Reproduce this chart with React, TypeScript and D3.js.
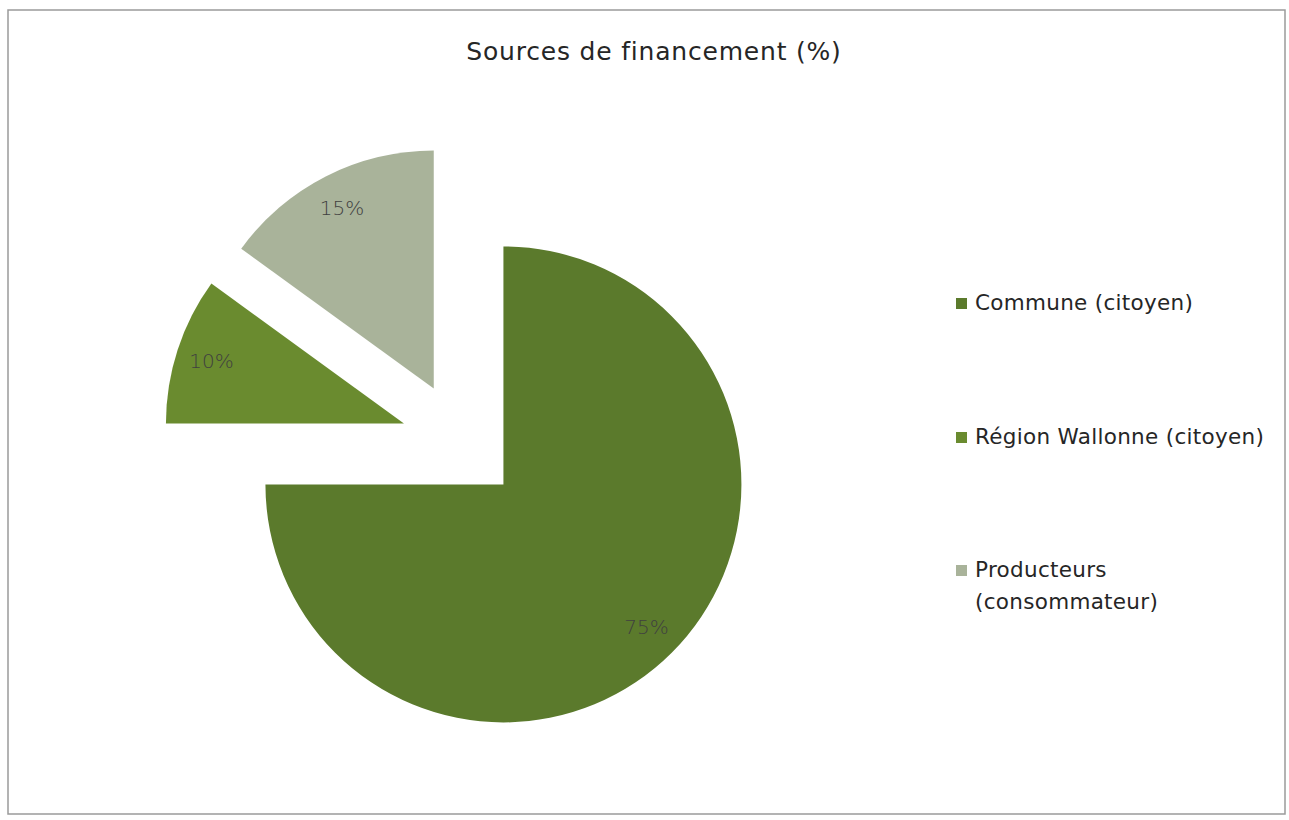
import React from "react";
import * as d3 from "d3";

const categories = ["Commune (citoyen)", "Région Wallonne (citoyen)", "Producteurs (consommateur)"];
const values = [75, 10, 15];
const valueLabels = ["75%", "10%", "15%"];
const legendLines = [["Commune (citoyen)"], ["Région Wallonne (citoyen)"], ["Producteurs", "(consommateur)"]];
const colors = ["#5b7a2c", "#6a8b2f", "#a9b39a"];
const title = "Sources de financement (%)";

const W = 1289;
const H = 820;
const cx = 461;
const cy = 442;
const R = 238;
const explode = 60;

export default function App() {
  const pie = d3.pie<number>().sort(null).startAngle(0).endAngle(2 * Math.PI);
  const arcs = pie(values);
  const arcGen = d3.arc<d3.PieArcDatum<number>>().innerRadius(0).outerRadius(R);
  const labelArc = d3.arc<d3.PieArcDatum<number>>().innerRadius(R * 0.85).outerRadius(R * 0.85);
  const legendY = [310, 444, 577];
  const font = "'DejaVu Sans', sans-serif";
  return (
    <svg width={W} height={H} style={{ position: "absolute", left: 0, top: 0 }}>
      <rect x={0} y={0} width={W} height={H} fill="#fff" />
      <rect x={8} y={10} width={1277} height={804} fill="#fff" stroke="#9a9a9a" strokeWidth={1.5} />
      <text x={654} y={60} textAnchor="middle" fontFamily={font} fontSize={25} letterSpacing={0.8} fill="#262626">
        {title}
      </text>
      {arcs.map((a, i) => {
        const mid = (a.startAngle + a.endAngle) / 2;
        const dx = Math.sin(mid) * explode;
        const dy = -Math.cos(mid) * explode;
        const [lx, ly] = labelArc.centroid(a);
        return (
          <g key={categories[i]} transform={`translate(${cx + dx},${cy + dy})`}>
            <path d={arcGen(a) || ""} fill={colors[i]} />
            <text x={lx} y={ly} textAnchor="middle" dominantBaseline="central" fontFamily={font} fontSize={20} fill="#404040" fontWeight={300}>
              {valueLabels[i]}
            </text>
          </g>
        );
      })}
      {categories.map((c, i) => (
        <g key={c}>
          <rect x={956} y={legendY[i] - 12} width={11} height={11} fill={colors[i]} />
          <text x={975} y={legendY[i]} fontFamily={font} fontSize={21.5} letterSpacing={0.3} fill="#262626">
            {legendLines[i].map((line, j) => (
              <tspan key={j} x={975} dy={j === 0 ? 0 : 32}>
                {line}
              </tspan>
            ))}
          </text>
        </g>
      ))}
    </svg>
  );
}
